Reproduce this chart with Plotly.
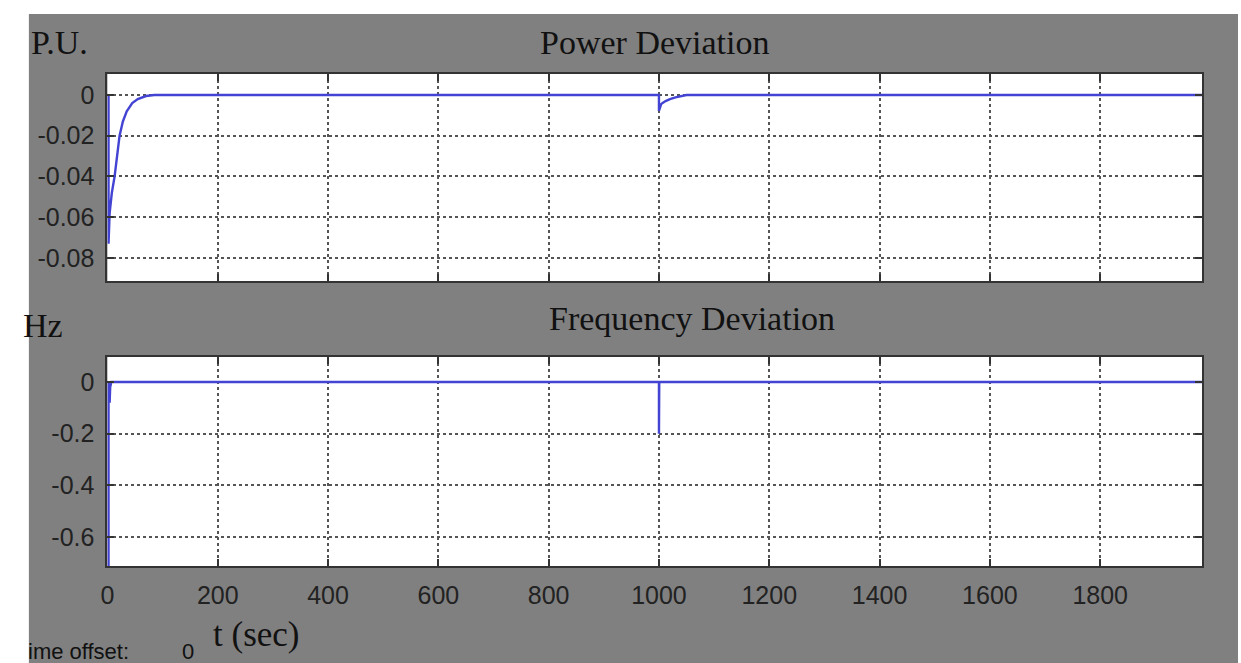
import plotly.graph_objects as go

W, H = 1241, 663

# Power deviation (P.U.)
t_power = [2, 2, 4, 8, 13, 18, 22, 28, 35, 45, 55, 70, 85, 1000, 1000, 1004, 1006, 1012, 1020, 1030, 1040, 1050, 1985]
p_power = [0, -0.073, -0.058, -0.048, -0.040, -0.028, -0.020, -0.013, -0.008, -0.004, -0.002, -0.0005, 0,
           0, -0.0078, -0.0045, -0.0040, -0.0030, -0.0020, -0.0012, -0.0006, 0, 0]

# Frequency deviation (Hz)
t_freq = [2, 2, 2, 4, 5, 7, 1000, 1000, 1000.5, 1985]
f_freq = [0, -0.75, -0.05, -0.08, -0.02, 0, 0, -0.2, 0, 0]

x_ticks = [0, 200, 400, 600, 800, 1000, 1200, 1400, 1600, 1800]
y1_ticks = [0, -0.02, -0.04, -0.06, -0.08]
y2_ticks = [0, -0.2, -0.4, -0.6]

line_color = "#4444d4"

fig = go.Figure()
fig.add_trace(go.Scatter(x=t_power, y=p_power, mode="lines", line=dict(color=line_color, width=2.4),
                         xaxis="x", yaxis="y", showlegend=False))
fig.add_trace(go.Scatter(x=t_freq, y=f_freq, mode="lines", line=dict(color=line_color, width=2.4),
                         xaxis="x2", yaxis="y2", showlegend=False))

x0, x1 = 101 / W, 1202 / W
y1d = [1 - 281 / H, 1 - 74 / H]
y2d = [1 - 566 / H, 1 - 357 / H]
common_axis = dict(showline=True, linecolor="#333333", linewidth=2, mirror="ticks",
                   ticks="inside", ticklen=7, tickwidth=2, tickcolor="#333333",
                   showgrid=True, gridcolor="#555555", griddash="dot", gridwidth=1.5,
                   zeroline=False, ticklabelstandoff=6,
                   tickfont=dict(family="Liberation Sans, Arial", size=25, color="#222222"))

fig.update_layout(
    width=W, height=H,
    margin=dict(l=0, r=0, t=0, b=0),
    paper_bgcolor="white",
    plot_bgcolor="rgba(0,0,0,0)",
    xaxis=dict(domain=[x0, x1], range=[0, 1985], tickvals=x_ticks, showticklabels=False,
               anchor="y", **common_axis),
    yaxis=dict(domain=y1d, range=[-0.0913, 0.0103], tickvals=y1_ticks,
               ticktext=["0", "-0.02", "-0.04", "-0.06", "-0.08"], anchor="x", **common_axis),
    xaxis2=dict(domain=[x0, x1], range=[0, 1985], tickvals=x_ticks, anchor="y2", **common_axis),
    yaxis2=dict(domain=y2d, range=[-0.712, 0.097], tickvals=y2_ticks,
                ticktext=["0", "-0.2", "-0.4", "-0.6"], anchor="x2", **common_axis),
    shapes=[
        dict(type="rect", xref="paper", yref="paper", x0=22 / W, x1=1238 / W, y0=0, y1=1 - 14 / H,
             fillcolor="#808080", line=dict(width=0), layer="below"),
        dict(type="rect", xref="paper", yref="paper", x0=x0, x1=x1, y0=y1d[0], y1=y1d[1],
             fillcolor="white", line=dict(width=0), layer="below"),
        dict(type="rect", xref="paper", yref="paper", x0=x0, x1=x1, y0=y2d[0], y1=y2d[1],
             fillcolor="white", line=dict(width=0), layer="below"),
    ],
)

serif = "Liberation Serif, Times New Roman"
ann = [
    dict(text="P.U.", x=22, y=42, xanchor="left", size=34),
    dict(text="Power Deviation", x=651, y=42, xanchor="center", size=34),
    dict(text="Hz", x=14, y=325, xanchor="left", size=34),
    dict(text="Frequency Deviation", x=689, y=318, xanchor="center", size=34),
    dict(text="t (sec)", x=250, y=634, xanchor="center", size=35),
]
for a in ann:
    fig.add_annotation(text=a["text"], xref="paper", yref="paper", x=a["x"] / W, y=1 - a["y"] / H,
                       xanchor=a["xanchor"], yanchor="middle", showarrow=False,
                       font=dict(family=serif, size=a["size"], color="#111111"))
fig.add_annotation(text="ime offset:", xref="paper", yref="paper", x=19 / W, y=1 - 651 / H,
                   xanchor="left", yanchor="middle", showarrow=False,
                   font=dict(family="Liberation Sans, Arial", size=22, color="#111111"))
fig.add_annotation(text="0", xref="paper", yref="paper", x=182 / W, y=1 - 651 / H,
                   xanchor="center", yanchor="middle", showarrow=False,
                   font=dict(family="Liberation Sans, Arial", size=22, color="#111111"))

fig.write_html("out.html")
